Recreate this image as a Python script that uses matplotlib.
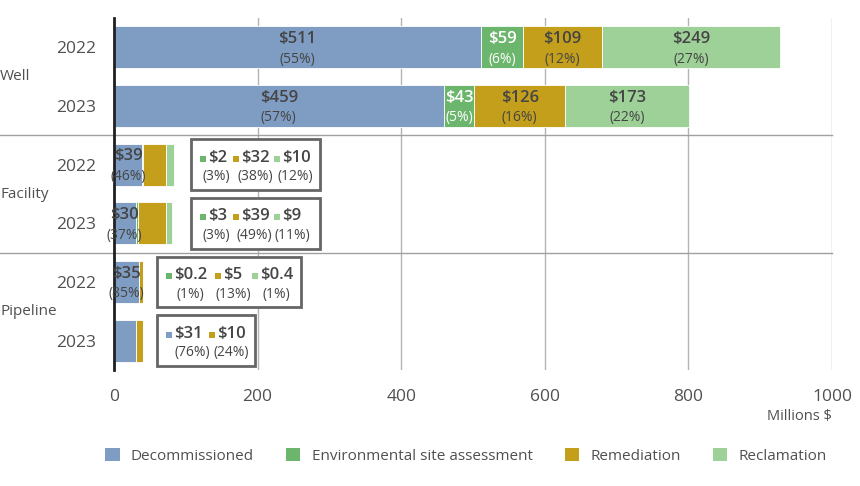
import matplotlib
matplotlib.use("Agg")
import matplotlib.pyplot as plt
from matplotlib.patches import Rectangle, Patch
from matplotlib.transforms import blended_transform_factory
import numpy as np

plt.rcParams['font.family'] = ['Open Sans', 'DejaVu Sans']

# ---------------- data ----------------
groups = ["Well", "Facility", "Pipeline"]
years = ["2022", "2023", "2022", "2023", "2022", "2023"]
series = ["Decommissioned", "Environmental site assessment", "Remediation", "Reclamation"]
colors = ["#7f9dc2", "#6cb56c", "#c49f1c", "#9dd198"]

decommissioned = [511, 459, 39, 30, 35, 31]
env_site = [59, 43, 2, 3, 0.2, 0]
remediation = [109, 126, 32, 39, 5, 10]
reclamation = [249, 173, 10, 9, 0.4, 0]

pct_decom = [55, 57, 46, 37, 85, 76]
pct_env = [6, 5, 3, 3, 1, 0]
pct_rem = [12, 16, 38, 49, 13, 24]
pct_rec = [27, 22, 12, 11, 1, 0]

value_labels = [
    ["$511", "$59", "$109", "$249"],
    ["$459", "$43", "$126", "$173"],
    ["$39", "$2", "$32", "$10"],
    ["$30", "$3", "$39", "$9"],
    ["$35", "$0.2", "$5", "$0.4"],
    ["$31", None, "$10", None],
]

xticks = [0, 200, 400, 600, 800, 1000]

# ---------------- figure ----------------
fig = plt.figure(figsize=(8.6, 4.86), dpi=100)
L, R, T, B = 114, 832, 18, 370
ax = fig.add_axes([L / 860, 1 - B / 486, (R - L) / 860, (B - T) / 486])

vals = np.array([decommissioned, env_site, remediation, reclamation], dtype=float)
pcts = np.array([pct_decom, pct_env, pct_rem, pct_rec])
ypos = np.arange(len(years))
bh = 0.72
left = np.zeros(len(years))
for i in range(4):
    ax.barh(ypos, vals[i], left=left, height=bh, color=colors[i],
            edgecolor="white", linewidth=0.6, zorder=3)
    left += vals[i]

ax.set_xlim(0, 1000)
ax.set_ylim(len(years) - 0.5, -0.5)
ax.set_xticks(xticks)
ax.set_xticklabels([str(t) for t in xticks], fontsize=12.5, color="#505050")
ax.set_yticks(ypos)
ax.set_yticklabels(years, fontsize=12.5, color="#505050")
ax.tick_params(axis="x", length=0, pad=14)
ax.tick_params(axis="y", length=0, pad=13)
ax.grid(axis="x", color="#b4b4b4", linewidth=1, zorder=0)
for s in ["top", "right", "bottom"]:
    ax.spines[s].set_visible(False)
ax.spines["left"].set_color("#202020")
ax.spines["left"].set_linewidth(2)
ax.spines["left"].set_zorder(5)

txt_dark = "#454545"
VFS, PFS = 12, 10
# in-bar labels
for r in range(len(years)):
    if r < 2:
        segs = [0, 1, 2, 3]
    elif r < 5:
        segs = [0]
    else:
        segs = []
    cum = np.concatenate([[0], np.cumsum(vals[:, r])])
    for s in segs:
        cx = (cum[s] + cum[s + 1]) / 2
        col = "white" if s == 1 else txt_dark
        ax.text(cx, r - 0.14, value_labels[r][s], ha="center", va="center",
                fontsize=VFS, fontweight="semibold", color=col, zorder=6)
        ax.text(cx, r + 0.2, f"({pcts[s, r]}%)", ha="center", va="center",
                fontsize=PFS, color=col, zorder=6)

# callouts (layout positions in pixels, converted to data units)
def px2d(px):
    return (px - L) / 0.718

callouts = [
    # row, box left px, box right px, [(segment, square px, pct center px)]
    (2, 191, 320, [(1, 203, 216), (2, 236, 255), (3, 277, 295)]),
    (3, 191, 320, [(1, 203, 216), (2, 236, 254), (3, 277, 292)]),
    (4, 157, 301, [(1, 169, 190), (2, 218, 233), (3, 255, 276)]),
    (5, 157, 255, [(0, 169, 192), (2, 212, 231)]),
]
for row, bl, br, items in callouts:
    x0, x1 = px2d(bl), px2d(br)
    rect = Rectangle((x0, row - 0.43), x1 - x0, 0.86, facecolor="white",
                     edgecolor="#666666", linewidth=2, zorder=4)
    ax.add_patch(rect)
    for seg, sq, pc in items:
        ax.scatter([px2d(sq)], [row - 0.1], marker="s", s=24, color=colors[seg],
                   zorder=7, linewidths=0)
        ax.text(px2d(sq + 5), row - 0.12, value_labels[row][seg], ha="left", va="center",
                fontsize=VFS, fontweight="semibold", color=txt_dark, zorder=6)
        ax.text(px2d(pc), row + 0.21, f"({pcts[seg, row]}%)", ha="center", va="center",
                fontsize=PFS, color=txt_dark, zorder=6)

# group separators and labels
trans = blended_transform_factory(ax.transAxes, ax.transData)
xl = -L / (R - L)
for yy in [1.5, 3.5]:
    ax.plot([xl, 1], [yy, yy], transform=trans, color="#a0a0a0", linewidth=1,
            clip_on=False, zorder=2)
for g, yy in zip(groups, [0.5, 2.5, 4.5]):
    ax.text(xl, yy, g, transform=trans, ha="left", va="center",
            fontsize=11, color="#505050")

fig.text(R / 860, 1 - 416 / 486, "Millions $", ha="right", va="center",
         fontsize=10.5, color="#505050")

handles = [Patch(facecolor=c, edgecolor="none") for c in colors]
fig.legend(handles, series, loc="center", bbox_to_anchor=(466 / 860, 1 - 456 / 486),
           ncol=4, frameon=False, fontsize=11, handlelength=0.92, handleheight=0.92,
           columnspacing=2.1, handletextpad=0.75, labelcolor="#505050")

fig.savefig("out.png", dpi=100)
